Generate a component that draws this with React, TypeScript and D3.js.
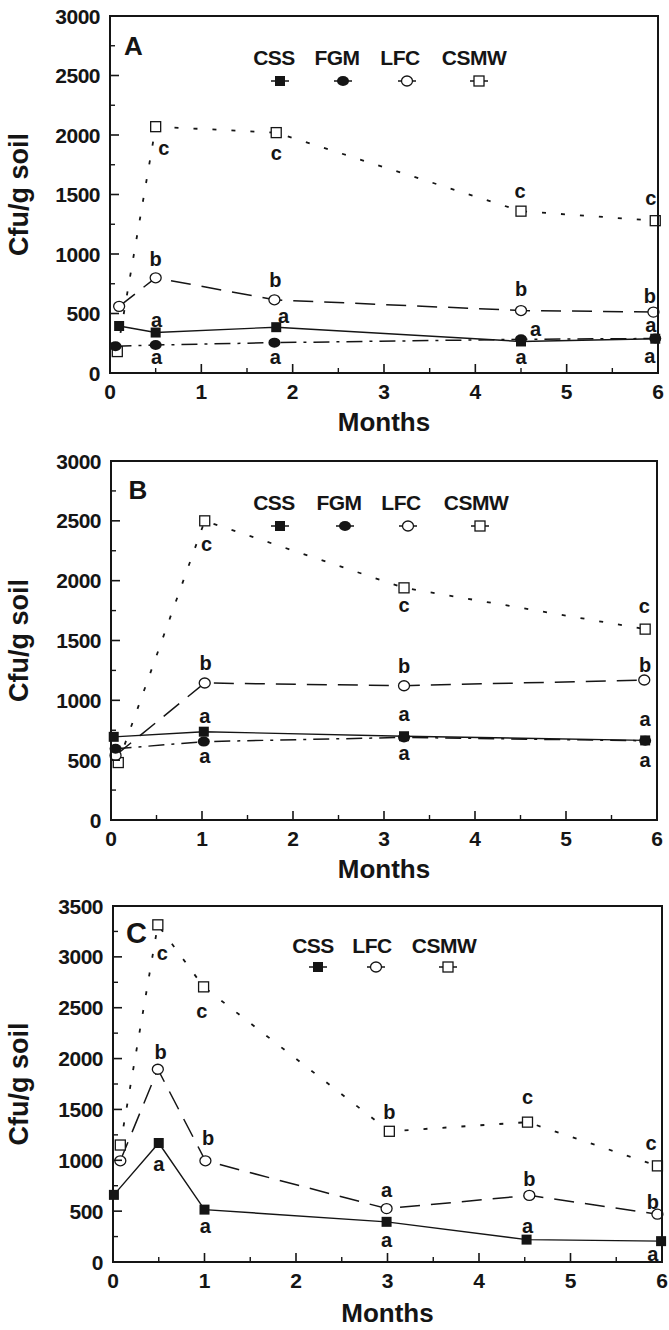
import React from "react";
import * as d3 from "d3";

type Pt = [number, number];
type Note = [string, number, number];

// ---- panel A ----
const aCSS: Pt[] = [[0.1, 395], [0.5, 340], [1.82, 385], [4.5, 265], [5.97, 288]];
const aFGM: Pt[] = [[0.06, 225], [0.5, 235], [1.8, 255], [4.5, 283], [5.97, 290]];
const aLFC: Pt[] = [[0.1, 560], [0.5, 800], [1.8, 615], [4.5, 525], [5.95, 512]];
const aCSMW: Pt[] = [[0.08, 180], [0.5, 2070], [1.82, 2020], [4.5, 1360], [5.97, 1280]];
const aNotes: Note[] = [
  ["c", 0.59, 1874], ["c", 1.82, 1832], ["c", 4.49, 1515], ["c", 5.92, 1454],
  ["b", 0.5, 955], ["b", 1.81, 782], ["b", 4.5, 703], ["b", 5.91, 650],
  ["a", 0.51, 431], ["a", 1.9, 460], ["a", 4.66, 355], ["a", 5.92, 384],
  ["a", 0.51, 115], ["a", 1.81, 115], ["a", 4.5, 115], ["a", 5.91, 124],
];

// ---- panel B ----
const bCSS: Pt[] = [[0.03, 695], [1.02, 738], [3.22, 700], [5.87, 665]];
const bFGM: Pt[] = [[0.05, 595], [1.02, 655], [3.22, 690], [5.87, 662]];
const bLFC: Pt[] = [[0.05, 540], [1.03, 1145], [3.22, 1122], [5.86, 1170]];
const bCSMW: Pt[] = [[0.08, 480], [1.03, 2500], [3.22, 1940], [5.87, 1595]];
const bNotes: Note[] = [
  ["c", 1.05, 2289], ["c", 3.22, 1782], ["c", 5.86, 1769],
  ["b", 1.04, 1314], ["b", 3.22, 1286], ["b", 5.87, 1295],
  ["a", 1.03, 850], ["a", 3.22, 869], ["a", 5.87, 830],
  ["a", 1.03, 515], ["a", 3.22, 543], ["a", 5.87, 487],
];

// ---- panel C ----
const cCSS: Pt[] = [[0.01, 660], [0.5, 1170], [1.0, 515], [2.99, 395], [4.52, 220], [5.99, 205]];
const cLFC: Pt[] = [[0.08, 995], [0.49, 1895], [1.01, 995], [2.99, 525], [4.55, 655], [5.95, 470]];
const cCSMW: Pt[] = [[0.08, 1150], [0.49, 3315], [0.99, 2705], [3.02, 1285], [4.53, 1375], [5.95, 945]];
const cNotes: Note[] = [
  ["c", 0.54, 3019], ["c", 0.97, 2452], ["c", 4.53, 1600], ["c", 5.88, 1150],
  ["b", 0.52, 2068], ["b", 1.04, 1216], ["b", 3.02, 1478], ["b", 4.55, 816], ["b", 5.9, 593],
  ["a", 0.5, 944], ["a", 1.01, 331], ["a", 2.99, 691], ["a", 2.99, 200], ["a", 4.53, 331], ["a", 5.9, 60],
];

const FONT = "'Liberation Sans', Arial, Helvetica, sans-serif";
const INK = "#151515";

const STYLE: Record<string, { dash: string; marker: string; w: number }> = {
  CSS: { dash: "none", marker: "sqFill", w: 1.4 },
  FGM: { dash: "16 7 3 7", marker: "cirFill", w: 1.5 },
  LFC: { dash: "20 11", marker: "cirOpen", w: 1.5 },
  CSMW: { dash: "4 15", marker: "sqOpen", w: 1.8 },
};

const panels = [
  {
    tag: "A", yMax: 3000, l: 110, r: 658, t: 16, b: 373,
    series: { CSMW: aCSMW, LFC: aLFC, FGM: aFGM, CSS: aCSS } as Record<string, Pt[]>,
    notes: aNotes,
    legend: ["CSS", "FGM", "LFC", "CSMW"], textX: [274, 337, 400, 474], markX: [280, 343, 407, 479],
    textDy: 49, markDy: 65, tagX: 133.5, tagDy: 39, tagSize: 26, monthsDy: 58,
  },
  {
    tag: "B", yMax: 3000, l: 111, r: 657, t: 461, b: 820,
    series: { CSMW: bCSMW, LFC: bLFC, FGM: bFGM, CSS: bCSS } as Record<string, Pt[]>,
    notes: bNotes,
    legend: ["CSS", "FGM", "LFC", "CSMW"], textX: [274, 339, 401, 476], markX: [280, 345, 408, 480],
    textDy: 49, markDy: 65, tagX: 138, tagDy: 38, tagSize: 26, monthsDy: 58,
  },
  {
    tag: "C", yMax: 3500, l: 113, r: 662, t: 906, b: 1262,
    series: { CSMW: cCSMW, LFC: cLFC, CSS: cCSS } as Record<string, Pt[]>,
    notes: cNotes,
    legend: ["CSS", "LFC", "CSMW"], textX: [313, 372, 444], markX: [318, 376, 448],
    textDy: 47, markDy: 61, tagX: 136.5, tagDy: 37, tagSize: 29, monthsDy: 60,
  },
];

function Marker({ kind, x, y }: { kind: string; x: number; y: number }) {
  if (kind === "sqFill") return <rect x={x - 5} y={y - 5} width={10} height={10} fill={INK} />;
  if (kind === "cirFill") return <ellipse cx={x} cy={y} rx={6} ry={5} fill={INK} />;
  if (kind === "cirOpen")
    return <ellipse cx={x} cy={y} rx={5.5} ry={5} fill="#fff" stroke={INK} strokeWidth={1.3} />;
  return <rect x={x - 5} y={y - 5} width={10} height={10} fill="#fff" stroke={INK} strokeWidth={1.3} />;
}

function Panel({ p }: { p: (typeof panels)[number] }) {
  const x = d3.scaleLinear().domain([0, 6]).range([p.l, p.r]);
  const y = d3.scaleLinear().domain([0, p.yMax]).range([p.b, p.t]);
  const line = d3.line<Pt>().x((d) => x(d[0])).y((d) => y(d[1]));
  const yMajor = d3.range(0, p.yMax + 1, 500);
  const yMinor = d3.range(250, p.yMax, 500);
  const xMajor = d3.range(0, 7);
  const xMinor = d3.range(0.5, 6, 1);
  const names = Object.keys(p.series);

  return (
    <g fontFamily={FONT} fontWeight="bold" fill={INK}>
      {names.map((n) => (
        <path key={n} d={line(p.series[n]) || ""} fill="none" stroke={INK} strokeWidth={STYLE[n].w}
          strokeDasharray={STYLE[n].dash} />
      ))}
      {names.map((n) =>
        p.series[n].map((d, i) => <Marker key={n + i} kind={STYLE[n].marker} x={x(d[0])} y={y(d[1])} />)
      )}
      {p.notes.map((d, i) => (
        <text key={i} x={x(d[1])} y={y(d[2]) + (d[0] === "b" ? 7 : 5)} textAnchor="middle" fontSize={20}>
          {d[0]}
        </text>
      ))}

      <rect x={p.l} y={p.t} width={p.r - p.l} height={p.b - p.t} fill="none" stroke={INK} strokeWidth={2} />
      {yMajor.map((v) => (
        <g key={"ym" + v}>
          <line x1={p.l} x2={p.l + 9} y1={y(v)} y2={y(v)} stroke={INK} strokeWidth={1.6} />
          <text x={p.l - 10} y={y(v) + 7.5} textAnchor="end" fontSize={21} letterSpacing={-0.5}>{v}</text>
        </g>
      ))}
      {yMinor.map((v) => (
        <line key={"yn" + v} x1={p.l} x2={p.l + 5} y1={y(v)} y2={y(v)} stroke={INK} strokeWidth={1.4} />
      ))}
      {xMajor.map((v) => (
        <g key={"xm" + v}>
          <line x1={x(v)} x2={x(v)} y1={p.b} y2={p.b - 9} stroke={INK} strokeWidth={1.6} />
          <text x={x(v)} y={p.b + 26} textAnchor="middle" fontSize={21}>{v}</text>
        </g>
      ))}
      {xMinor.map((v) => (
        <line key={"xn" + v} x1={x(v)} x2={x(v)} y1={p.b} y2={p.b - 5} stroke={INK} strokeWidth={1.4} />
      ))}

      <text x={p.tagX} y={p.t + p.tagDy} textAnchor="middle" fontSize={p.tagSize}>{p.tag}</text>
      {p.legend.map((n, i) => (
        <g key={"lg" + n}>
          <text x={p.textX[i]} y={p.t + p.textDy} textAnchor="middle" fontSize={21} letterSpacing={-0.5}>{n}</text>
          <line x1={p.markX[i] - 9} x2={p.markX[i] + 9} y1={p.t + p.markDy} y2={p.t + p.markDy}
            stroke={INK} strokeWidth={1.5} />
          <Marker kind={STYLE[n].marker} x={p.markX[i]} y={p.t + p.markDy} />
        </g>
      ))}

      <text x={(p.l + p.r) / 2} y={p.b + p.monthsDy} textAnchor="middle" fontSize={26}>Months</text>
      <text transform={`translate(28,${(p.t + p.b) / 2}) rotate(-90)`} textAnchor="middle" fontSize={27}>
        Cfu/g soil
      </text>
    </g>
  );
}

export default function App() {
  return (
    <svg width={669} height={1330} style={{ position: "absolute", left: 0, top: 0, background: "#fff" }}>
      <rect width={669} height={1330} fill="#fff" />
      {panels.map((p) => (
        <Panel key={p.tag} p={p} />
      ))}
    </svg>
  );
}
